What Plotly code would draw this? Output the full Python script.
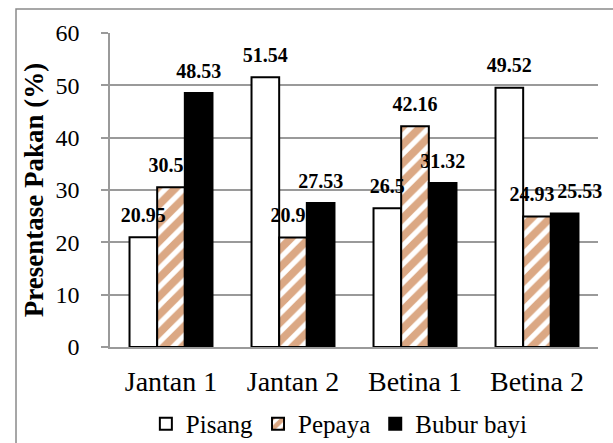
import plotly.graph_objects as go

# Feed preference (%) per animal group
groups = ["Jantan 1", "Jantan 2", "Betina 1", "Betina 2"]
pisang = [20.95, 51.54, 26.5, 49.52]
pepaya = [30.52, 20.93, 42.16, 24.93]
bubur_bayi = [48.53, 27.53, 31.32, 25.53]
y_ticks = [0, 10, 20, 30, 40, 50, 60]

SERIF = "Liberation Serif"
HATCH = "#B8520A"
NBSP = "&nbsp;"

# crowded neighbouring labels in the last group are nudged apart with padding
# (spaces before the value push it right, spaces after push it left)
label_padding = {
    ("Pepaya", "Betina 2"): (0, 2),
    ("Bubur bayi", "Betina 2"): (6, 0),
}


def bar_labels(series, values):
    # bold value on the first line, a tiny blank line below lifts it off the bar top
    out = []
    for g, v in zip(groups, values):
        before, after = label_padding.get((series, g), (0, 0))
        out.append(f"<span style='font-size:20px'>{NBSP * before}<b>{v:g}</b>{NBSP * after}</span>"
                   f"<br>{NBSP}")
    return out


label_style = dict(
    textposition="outside",
    textangle=0,
    constraintext="none",
    cliponaxis=False,
    textfont=dict(family=SERIF, size=8, color="black"),
)

fig = go.Figure()

fig.add_trace(go.Bar(
    name="Pisang", x=groups, y=pisang, offsetgroup="a",
    marker=dict(color="white", line=dict(color="black", width=2)),
    hoverinfo="x+y",
))
fig.add_trace(go.Bar(
    name="Pepaya", x=groups, y=pepaya, offsetgroup="b",
    marker=dict(color="white", line=dict(color="black", width=2),
                pattern=dict(shape="/", fgcolor=HATCH, bgcolor="white",
                             size=13, solidity=0.6)),
    text=bar_labels("Pepaya", pepaya), **label_style,
))
# Pisang labels sit above the hatched bars, so they ride on a clear overlay bar
fig.add_trace(go.Bar(
    name="Pisang labels", x=groups, y=pisang, offsetgroup="a",
    marker=dict(color="rgba(0,0,0,0)", line=dict(width=0)),
    text=bar_labels("Pisang", pisang), showlegend=False, hoverinfo="skip", **label_style,
))
fig.add_trace(go.Bar(
    name="Bubur bayi", x=groups, y=bubur_bayi, offsetgroup="c",
    marker=dict(color="black", line=dict(color="black", width=2)),
    text=bar_labels("Bubur bayi", bubur_bayi), **label_style,
))

fig.update_layout(
    width=613, height=443,
    margin=dict(l=110, r=15, t=33, b=96, autoexpand=False),
    paper_bgcolor="white", plot_bgcolor="white",
    barmode="group", bargap=0.32, bargroupgap=0,
    font=dict(family=SERIF, color="black"),
    legend=dict(
        orientation="h", x=0.47, xanchor="center", y=-0.245, yanchor="middle",
        font=dict(family=SERIF, size=25, color="black"),
        itemwidth=30, bgcolor="rgba(0,0,0,0)",
    ),
    shapes=[dict(
        type="rect", xref="paper", yref="paper",
        x0=-0.1926, x1=1.2, y0=-0.5, y1=1.0764,
        line=dict(color="#8a8a8a", width=1.5), layer="above",
    )],
)

fig.update_yaxes(
    range=[0, 60], tickvals=y_ticks,
    showgrid=True, gridcolor="#9a9a9a", gridwidth=1.5,
    showline=True, linecolor="#9a9a9a", linewidth=1.5,
    ticks="outside", ticklen=7, tickcolor="#9a9a9a", tickwidth=1.5,
    ticklabelstandoff=17,
    tickfont=dict(family=SERIF, size=24, color="black"),
    title=dict(text="<b>Presentase Pakan (%)</b>", standoff=4,
               font=dict(family=SERIF, size=27, color="black")),
    zeroline=False, fixedrange=True, automargin=False,
)
fig.update_xaxes(
    showline=True, linecolor="#9a9a9a", linewidth=1.5,
    ticks="", ticklabelstandoff=9,
    tickfont=dict(family=SERIF, size=28, color="black"),
    fixedrange=True, automargin=False,
)

fig.write_html("out.html")
